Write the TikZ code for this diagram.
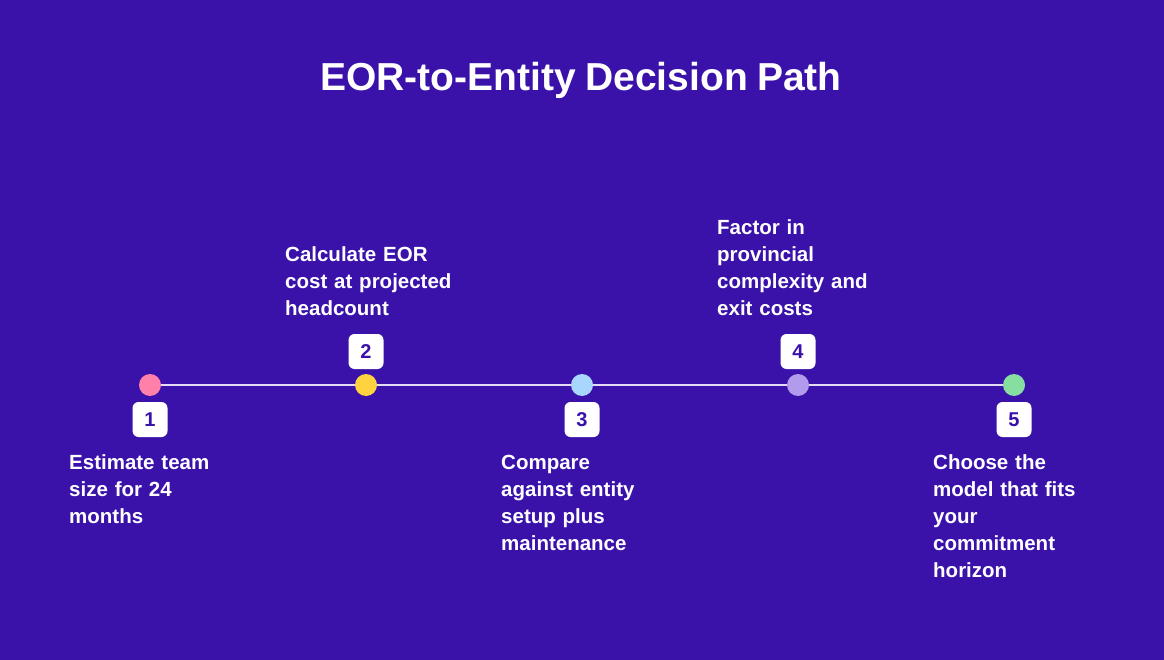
\documentclass[tikz,border=0pt]{standalone}
\usepackage{fontspec}
\setmainfont{Liberation Sans}[WordSpace=0.85]
\definecolor{bg}{HTML}{3A12AA}
\definecolor{track}{HTML}{E4DCF7}
\definecolor{cpink}{HTML}{FF80A8}
\definecolor{cyellow}{HTML}{FFD23F}
\definecolor{cblue}{HTML}{A8D6FF}
\definecolor{clav}{HTML}{B29AEC}
\definecolor{cgreen}{HTML}{86DFA0}
\tikzset{
  dot/.style={circle, minimum size=22pt, inner sep=0pt},
  numbox/.style={fill=white, rounded corners=6pt, minimum width=35pt, minimum height=35pt, inner sep=0pt, text=bg, font=\fontsize{20}{22}\selectfont\bfseries},
  lbl/.style={text=white, text width=180pt, align=left, inner sep=0pt, font=\fontsize{20.5}{27}\selectfont\bfseries},
}
\begin{document}
\begin{tikzpicture}[x=1pt,y=-1pt]
\fill[bg] (0,0) rectangle (1164,660);
\useasboundingbox (0,0) rectangle (1164,660);
\node[text=white, font=\fontsize{39}{44}\selectfont\bfseries] (title) at (581,80) {EOR-to-Entity Decision Path};
\node[dot, fill=cpink] (d1) at (150,385) {};
\node[dot, fill=cyellow] (d2) at (366,385) {};
\node[dot, fill=cblue] (d3) at (582,385) {};
\node[dot, fill=clav] (d4) at (798,385) {};
\node[dot, fill=cgreen] (d5) at (1014,385) {};
\draw[track, line width=2pt] (d1) -- (d2) -- (d3) -- (d4) -- (d5);
\node[numbox] (n1) at (150,419.5) {1};
\node[numbox] (n2) at (366,351.5) {2};
\node[numbox] (n3) at (582,419.5) {3};
\node[numbox] (n4) at (798,351.5) {4};
\node[numbox] (n5) at (1014,419.5) {5};
\node[lbl, anchor=north west] (l1) at (69,450) {\strut Estimate team\\size for 24\\months\strut};
\node[lbl, anchor=south west] (l2) at (285,324) {\strut Calculate EOR\\cost at projected\\headcount\strut};
\node[lbl, anchor=north west] (l3) at (501,450) {\strut Compare\\against entity\\setup plus\\maintenance\strut};
\node[lbl, anchor=south west] (l4) at (717,324) {\strut Factor in\\provincial\\complexity and\\exit costs\strut};
\node[lbl, anchor=north west] (l5) at (933,450) {\strut Choose the\\model that fits\\your\\commitment\\horizon\strut};
\end{tikzpicture}
\end{document}
